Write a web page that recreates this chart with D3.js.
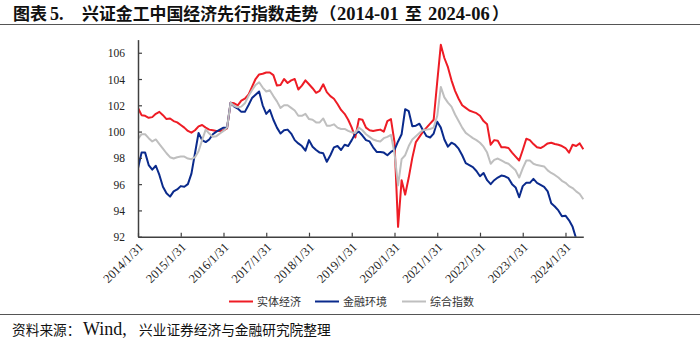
<!DOCTYPE html>
<html>
<head>
<meta charset="utf-8">
<script src="https://cdn.jsdelivr.net/npm/d3@7"></script>
<style>
  body { margin: 0; background: #fff; }
  svg { display: block; }
</style>
</head>
<body>
<svg id="chart" width="700" height="343"></svg>
<script>
// Monthly index readings, 2014-01 through 2024-06
const months = d3.timeMonth.range(new Date(2014, 0, 1), new Date(2024, 6, 1));

// 实体经济
const realEconomy = [
  101.8, 101.25, 101.2, 101.05, 101.1, 101.35, 101.5, 101.25, 100.95, 101.0, 100.8, 100.7,
  100.5, 100.3, 100.05, 99.92, 100.1, 100.4, 100.5, 100.3, 100.15, 100.1, 100.05, 100.05,
  100.1, 100.25, 102.2, 102.15, 102.0, 102.35, 102.5, 102.8, 103.4, 104.0, 104.35, 104.4,
  104.5, 104.5, 104.3, 103.5, 103.55, 104.0, 103.7, 103.9, 104.0, 103.2, 103.5, 103.9,
  103.6, 103.3, 102.95, 103.1, 103.6, 103.0, 102.7, 102.5, 102.1, 101.65, 101.35, 100.9,
  100.3, 99.55, 100.95, 100.9, 100.3, 100.1, 100.05, 100.1, 100.15, 100.0, 100.8, 100.95,
  99.2, 92.75, 96.3, 95.2, 96.5, 98.0, 99.2, 99.6, 100.0, 100.3, 100.6, 100.9,
  103.8, 106.6, 105.6, 104.9, 103.9, 103.1, 102.5, 102.0, 101.8, 101.6, 101.5, 101.4,
  101.2, 100.8, 100.55, 99.0, 99.35, 99.3, 98.8, 98.8, 98.75, 98.4, 98.1, 97.8,
  98.6, 99.45, 99.35, 99.05, 98.8, 98.75, 98.9, 99.1, 99.15, 99.05, 99.0, 98.9,
  98.75, 98.4, 99.0, 98.9, 99.1, 98.65
];

// 金融环境
const financialEnv = [
  97.2, 98.4, 98.4, 97.45, 97.1, 97.4, 96.7, 95.8, 95.3, 95.05, 95.45, 95.6,
  95.85, 95.8, 96.0, 96.8, 98.35, 99.9, 99.35, 99.2, 99.4, 99.8, 100.0, 100.15,
  100.3, 100.3, 102.2, 101.9, 101.75, 101.5, 101.5, 102.0, 102.55, 102.8, 103.05, 102.0,
  101.35, 101.65, 100.9, 100.3, 99.85, 100.1, 100.15, 99.85, 99.35, 99.1, 98.9, 98.55,
  99.35, 98.85, 98.6, 98.4, 98.35, 97.7, 98.2, 98.8, 98.9, 98.6, 99.0, 98.9,
  99.35, 99.85, 100.0, 99.7, 99.35, 99.25, 98.8, 98.45, 98.45, 98.4, 98.2, 98.45,
  98.6, 99.25, 99.8, 101.7, 101.55, 100.4, 100.45, 100.6, 100.1, 99.65, 99.55, 99.85,
  100.75, 100.3, 99.4, 98.85, 99.15, 99.0, 98.7, 98.2, 97.6, 97.45, 97.3, 97.0,
  96.6, 96.85, 96.3, 96.0, 96.3, 96.5, 96.65, 96.6, 96.45, 96.0, 95.75, 95.0,
  95.85, 96.1, 96.1, 96.4, 96.1, 95.95, 95.8, 95.45, 94.55, 94.3, 94.0, 93.55,
  93.6, 93.25, 92.75, 91.85, 91.5, 91.2
];

// 综合指数
const compositeIdx = [
  99.45, 99.8, 99.8, 99.5, 99.25, 99.4, 99.05, 98.7, 98.35, 98.05, 97.95, 98.05,
  98.1, 98.1, 97.95, 97.9, 98.05, 98.5, 99.35, 100.15, 99.85, 99.6, 99.65, 99.85,
  100.05, 100.3, 102.2, 101.95, 101.85, 101.9, 102.15, 102.7, 103.15, 103.55, 103.75, 103.35,
  103.05, 103.15, 102.7, 102.3, 101.8, 102.0, 102.0, 101.8, 101.6, 101.2, 101.2, 101.35,
  100.95, 100.9, 100.7, 100.7, 101.0, 100.45, 100.45, 100.55, 100.3, 100.2, 100.2, 100.05,
  99.95, 99.9, 100.3, 100.1, 99.8, 99.6, 99.4, 99.3, 99.25, 99.5, 99.6, 99.75,
  98.35, 95.9, 97.9, 98.2, 98.9, 99.4, 99.65, 99.9, 100.1, 100.15, 100.2, 100.3,
  101.2, 103.4, 102.6, 102.2, 101.9, 101.3, 100.8, 100.3, 99.9, 99.7, 99.5, 99.35,
  99.15, 98.85, 98.4, 97.55, 97.85, 97.95, 97.8, 97.65, 97.55, 97.3, 97.05, 96.5,
  97.2, 97.8, 97.8, 97.55, 97.45, 97.4, 97.35, 97.05, 96.85, 96.7, 96.5, 96.25,
  96.1, 95.85, 95.7, 95.45, 95.25, 94.85
];

const seriesNames = ["实体经济", "金融环境", "综合指数"];
const seriesColors = ["#ee1c25", "#0a2a8c", "#bfbfbf"];
const yTicks = [92, 94, 96, 98, 100, 102, 104, 106];
const xTickLabels = ["2014/1/31", "2015/1/31", "2016/1/31", "2017/1/31", "2018/1/31", "2019/1/31",
                     "2020/1/31", "2021/1/31", "2022/1/31", "2023/1/31", "2024/1/31"];

const svg = d3.select("#chart");
const serif = "'Liberation Serif', 'Times New Roman', 'Noto Sans CJK SC', serif";
const cjk = "'Noto Sans CJK SC', sans-serif";

// Header: title pieces laid out left to right
const titleParts = [
  { t: "图表", x: 13, f: cjk, s: 17 },
  { t: "5.", x: 50, f: serif, s: 18 },
  { t: "兴证金工中国经济先行指数走势", x: 82, f: cjk, s: 16.9 },
  { t: "（", x: 319.5, f: cjk, s: 16.9 },
  { t: "2014-01", x: 337, f: serif, s: 18.5 },
  { t: "至", x: 405, f: cjk, s: 16.9 },
  { t: "2024-06", x: 428, f: serif, s: 18.5 },
  { t: "）", x: 492, f: cjk, s: 16.9 }
];
const title = svg.append("text").attr("y", 19.5).attr("font-weight", "bold").attr("fill", "#111");
titleParts.forEach(p => {
  title.append("tspan").attr("x", p.x).attr("font-family", p.f).attr("font-size", p.s).text(p.t);
});
svg.append("line").attr("x1", 0).attr("x2", 700).attr("y1", 24.5).attr("y2", 24.5)
  .attr("stroke", "#555").attr("stroke-width", 1);

// Scales
const plot = { left: 138, right: 583.3, top: 39.6, bottom: 236.7 };
const x = d3.scaleLinear().domain([0, months.length - 1]).range([plot.left, plot.right]);
const y = d3.scaleLinear().domain([92, 107]).range([plot.bottom, plot.top]);

svg.append("clipPath").attr("id", "plotClip")
  .append("rect").attr("x", plot.left).attr("y", plot.top - 2)
  .attr("width", plot.right - plot.left + 2).attr("height", plot.bottom - plot.top + 2);

// Lines
const line = d3.line().x((d, i) => x(i)).y(d => y(d));
const seriesData = [realEconomy, financialEnv, compositeIdx];
svg.append("g").attr("clip-path", "url(#plotClip)")
  .selectAll("path").data(seriesData).join("path")
  .attr("d", line)
  .attr("fill", "none")
  .attr("stroke", (d, i) => seriesColors[i])
  .attr("stroke-width", 2)
  .attr("stroke-linejoin", "round");

// Axes
const axisColor = "#404040";
const yAxis = svg.append("g").attr("transform", `translate(${plot.left},0)`)
  .call(d3.axisLeft(y).tickValues(yTicks).tickSize(-4).tickSizeOuter(0).tickPadding(13));
const xAxis = svg.append("g").attr("transform", `translate(0,${plot.bottom})`)
  .call(d3.axisBottom(x).tickValues(d3.range(0, 121, 12)).tickSize(-4).tickSizeOuter(0)
    .tickFormat((d, i) => xTickLabels[i]));

[yAxis, xAxis].forEach(g => {
  g.select(".domain").attr("stroke", axisColor).attr("stroke-width", 1.5);
  g.selectAll(".tick line").attr("stroke", axisColor).attr("stroke-width", 1.2);
  g.selectAll("text").attr("font-family", serif).attr("fill", "#222");
});
yAxis.selectAll("text").attr("font-size", 11.5).attr("dy", "0.35em");
xAxis.selectAll("text")
  .attr("font-size", 12.5)
  .attr("text-anchor", "end")
  .attr("transform", "rotate(-45)")
  .attr("x", -4).attr("y", 7.5).attr("dy", "0.35em");

// Legend
const legendPos = [229, 315, 402];
const legend = svg.append("g");
seriesNames.forEach((name, i) => {
  legend.append("line").attr("x1", legendPos[i]).attr("x2", legendPos[i] + 24)
    .attr("y1", 301.5).attr("y2", 301.5)
    .attr("stroke", seriesColors[i]).attr("stroke-width", 2);
  legend.append("text").attr("x", legendPos[i] + 28).attr("y", 305.5)
    .attr("font-family", cjk).attr("font-size", 11).attr("fill", "#333")
    .text(name);
});

// Footer
svg.append("line").attr("x1", 0).attr("x2", 700).attr("y1", 314.5).attr("y2", 314.5)
  .attr("stroke", "#555").attr("stroke-width", 1);
const sourceParts = [
  { t: "资料来源：", x: 12, f: cjk, s: 13.7 },
  { t: "Wind,", x: 83, f: serif, s: 18 },
  { t: "兴业证券经济与金融研究院整理", x: 139, f: cjk, s: 13.7 }
];
const source = svg.append("text").attr("y", 335).attr("fill", "#111");
sourceParts.forEach(p => {
  source.append("tspan").attr("x", p.x).attr("font-family", p.f).attr("font-size", p.s).text(p.t);
});
</script>
</body>
</html>
